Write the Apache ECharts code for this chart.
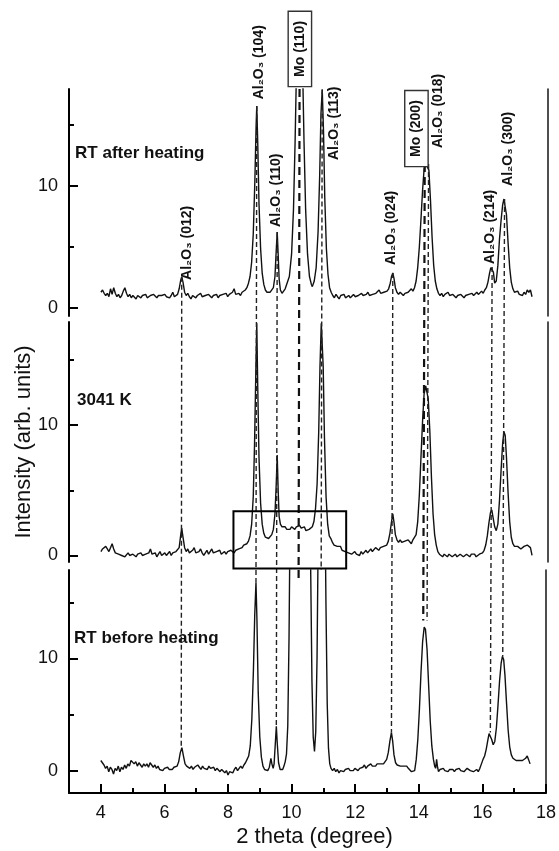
<!DOCTYPE html>
<html>
<head>
<meta charset="utf-8">
<script src="https://cdn.jsdelivr.net/npm/echarts@6.0.0/dist/echarts.min.js"></script>
<style>
  html, body { margin: 0; padding: 0; background: #fff; }
  #chart { width: 559px; height: 851px; }
</style>
</head>
<body>
<div id="chart"></div>
<script>
// ---- axis ticks ----
const xTicks = [4, 6, 8, 10, 12, 14, 16, 18];
const xMinorTicks = [5, 7, 9, 11, 13, 15, 17];
const yTicks = [0, 10];
const yMinorTicks = [5, 15];

// ---- panel captions (top to bottom) ----
const panelNames = ['RT after heating', '3041 K', 'RT before heating'];

// ---- diffraction patterns: [2 theta (deg), intensity (arb. units)] ----
const afterHeating = [
  [4.00,1.29],[4.05,1.47],[4.10,1.20],[4.15,1.02],[4.20,1.20],[4.25,0.92],[4.30,1.57],[4.35,1.11],[4.40,1.66],[4.45,1.20],
  [4.50,0.92],[4.55,1.11],[4.60,0.83],[4.65,1.02],[4.70,1.38],[4.75,1.66],[4.80,1.20],[4.85,0.92],[4.90,1.11],[4.95,0.83],
  [5.00,1.02],[5.05,0.92],[5.10,0.74],[5.15,1.02],[5.20,0.92],[5.25,0.83],[5.30,1.02],[5.35,0.92],[5.40,1.11],[5.45,0.83],
  [5.50,0.92],[5.55,1.02],[5.60,0.92],[5.65,1.11],[5.70,1.02],[5.75,0.83],[5.80,1.02],[5.85,0.92],[5.90,1.02],[5.95,0.92],
  [6.00,1.11],[6.05,0.92],[6.10,1.02],[6.15,0.83],[6.20,1.02],[6.25,1.29],[6.30,0.92],[6.35,1.02],[6.40,1.11],[6.45,1.57],
  [6.50,2.30],[6.53,2.55],[6.57,2.12],[6.62,1.29],[6.67,1.02],[6.72,1.20],[6.77,0.92],[6.82,0.74],[6.87,1.02],[6.92,1.11],
  [6.97,0.83],[7.02,1.02],[7.07,0.92],[7.12,1.20],[7.17,0.92],[7.22,0.83],[7.27,1.02],[7.32,0.92],[7.37,1.11],[7.42,1.02],
  [7.47,0.83],[7.52,1.02],[7.57,0.92],[7.62,1.11],[7.67,0.83],[7.72,1.02],[7.77,0.92],[7.82,1.11],[7.87,1.02],[7.92,1.20],
  [7.97,0.92],[8.02,1.11],[8.07,1.02],[8.12,1.29],[8.17,1.57],[8.22,1.11],[8.27,1.02],[8.32,1.20],[8.37,1.02],[8.42,1.29],
  [8.47,1.20],[8.52,1.47],[8.57,1.66],[8.62,2.03],[8.67,2.58],[8.72,3.77],[8.77,6.06],[8.82,10.38],[8.86,14.97],[8.88,16.56],
  [8.91,13.59],[8.95,8.54],[9.00,4.87],[9.05,2.85],[9.10,1.93],[9.15,1.47],[9.20,1.29],[9.25,1.20],[9.30,1.29],[9.35,1.38],
  [9.40,1.66],[9.45,2.58],[9.48,4.23],[9.52,6.23],[9.55,4.41],[9.58,2.39],[9.62,1.47],[9.67,1.20],[9.72,1.29],[9.77,1.57],
  [9.82,1.66],[9.90,2.58],[9.97,4.41],[10.03,8.08],[10.08,13.59],[10.12,19.1],[10.17,26.44],[10.22,30.12],[10.27,26.44],
  [10.32,19.1],[10.36,13.59],[10.41,8.08],[10.47,4.41],[10.53,2.58],[10.59,1.93],[10.62,1.75],[10.68,2.21],[10.74,3.31],
  [10.80,6.25],[10.85,10.84],[10.89,15.89],[10.93,17.9],[10.97,14.51],[11.01,9.0],[11.06,4.87],[11.11,2.76],[11.16,1.66],
  [11.21,1.29],[11.26,1.02],[11.31,0.83],[11.36,1.11],[11.41,0.92],[11.46,0.74],[11.51,1.02],[11.56,0.92],[11.61,1.11],
  [11.66,0.83],[11.71,0.92],[11.76,1.02],[11.81,0.83],[11.86,0.92],[11.91,1.11],[11.96,0.92],[12.01,0.83],[12.06,1.02],
  [12.11,0.92],[12.16,1.20],[12.21,1.02],[12.26,0.92],[12.31,1.11],[12.36,1.29],[12.41,1.02],[12.46,0.92],[12.51,1.11],
  [12.56,1.02],[12.61,1.20],[12.66,1.11],[12.71,1.47],[12.76,1.20],[12.81,1.11],[12.86,1.29],[12.91,1.20],[12.96,1.38],
  [13.01,1.57],[13.06,2.03],[13.10,2.58],[13.14,2.87],[13.18,2.39],[13.22,1.66],[13.27,1.29],[13.32,1.11],[13.37,1.29],
  [13.42,1.20],[13.47,1.02],[13.52,1.20],[13.57,1.11],[13.62,1.29],[13.67,1.38],[13.72,1.57],[13.77,1.38],[13.82,1.66],
  [13.87,2.21],[13.92,3.31],[13.97,4.96],[14.02,7.17],[14.07,9.55],[14.12,11.39],[14.17,11.85],[14.22,11.57],[14.27,11.30],
  [14.32,8.82],[14.37,5.79],[14.42,3.49],[14.47,2.21],[14.52,1.57],[14.57,1.20],[14.62,1.02],[14.67,1.20],[14.72,0.92],
  [14.77,1.11],[14.82,1.02],[14.87,1.29],[14.92,1.02],[14.97,0.92],[15.02,1.11],[15.07,1.02],[15.12,0.83],[15.17,1.02],
  [15.22,0.92],[15.27,1.11],[15.32,1.02],[15.37,0.83],[15.42,1.02],[15.47,0.92],[15.52,1.11],[15.57,1.02],[15.62,1.20],
  [15.67,1.02],[15.72,1.11],[15.77,1.29],[15.82,1.11],[15.87,1.20],[15.92,1.38],[15.97,1.20],[16.02,1.47],[16.07,1.66],
  [16.12,2.12],[16.17,2.85],[16.21,3.31],[16.25,3.36],[16.29,2.94],[16.33,2.03],[16.38,2.21],[16.43,3.49],[16.48,5.61],
  [16.53,7.17],[16.58,8.45],[16.62,8.93],[16.66,8.82],[16.70,7.63],[16.75,5.33],[16.80,3.31],[16.85,2.12],[16.90,1.57],
  [16.95,1.29],[17.00,1.20],[17.05,1.38],[17.10,1.11],[17.15,1.20],[17.20,1.02],[17.25,1.29],[17.30,1.11],[17.35,1.47],
  [17.40,1.29],[17.45,1.47],[17.50,0.92]
];

const at3041K = [
  [4.00,0.3],[4.05,0.5],[4.10,0.4],[4.15,0.7],[4.20,0.5],[4.25,0.3],[4.30,0.6],[4.35,0.9],[4.40,0.5],[4.45,0.2],
  [4.50,0.3],[4.55,0.1],[4.60,0.2],[4.65,0.0],[4.70,0.1],[4.75,-0.1],[4.80,0.0],[4.85,0.2],[4.90,0.0],[4.95,-0.1],
  [5.00,0.1],[5.05,0.0],[5.10,-0.1],[5.15,0.1],[5.20,0.0],[5.25,0.2],[5.30,0.0],[5.35,-0.1],[5.40,0.1],[5.45,0.0],
  [5.50,0.2],[5.55,0.5],[5.60,0.1],[5.65,0.0],[5.70,0.2],[5.75,-0.1],[5.80,0.1],[5.85,0.3],[5.90,0.0],[5.95,0.1],
  [6.00,0.2],[6.05,0.0],[6.10,0.1],[6.15,0.3],[6.20,0.0],[6.25,0.2],[6.30,0.1],[6.35,0.3],[6.40,0.2],[6.45,0.6],
  [6.50,1.6],[6.53,2.1],[6.57,1.4],[6.62,0.6],[6.67,0.3],[6.72,0.5],[6.77,0.2],[6.82,0.1],[6.87,0.4],[6.92,0.6],
  [6.97,0.2],[7.02,0.1],[7.07,0.3],[7.12,0.5],[7.17,0.2],[7.22,0.0],[7.27,0.2],[7.32,0.4],[7.37,0.1],[7.42,0.3],
  [7.47,0.5],[7.52,0.2],[7.57,0.1],[7.62,0.3],[7.67,0.2],[7.72,0.4],[7.77,0.1],[7.82,0.2],[7.87,0.3],[7.92,0.1],
  [7.97,0.3],[8.02,0.2],[8.07,0.4],[8.12,0.3],[8.17,0.2],[8.22,0.4],[8.27,0.3],[8.32,0.5],[8.37,0.4],[8.42,0.6],
  [8.47,0.8],[8.52,0.7],[8.57,0.9],[8.62,1.1],[8.67,1.5],[8.72,2.4],[8.77,4.5],[8.81,8.5],[8.85,14.0],[8.88,17.8],
  [8.91,13.0],[8.95,7.5],[9.00,4.0],[9.05,2.4],[9.10,1.7],[9.15,1.4],[9.20,1.3],[9.25,1.3],[9.30,1.4],[9.35,1.6],
  [9.40,2.0],[9.45,3.2],[9.49,5.5],[9.52,7.7],[9.55,5.0],[9.58,3.0],[9.62,2.4],[9.67,2.2],[9.72,2.1],[9.77,2.2],
  [9.82,2.0],[9.87,2.1],[9.92,2.0],[9.97,2.2],[10.02,2.1],[10.07,2.0],[10.12,2.2],[10.17,2.1],[10.22,2.3],[10.27,2.1],
  [10.32,2.0],[10.37,2.2],[10.42,1.9],[10.47,1.8],[10.52,2.0],[10.57,1.9],[10.62,2.2],[10.67,2.6],[10.72,3.6],
  [10.77,5.5],[10.82,9.5],[10.86,14.5],[10.90,17.8],[10.93,17.9],[10.96,14.5],[11.00,9.0],[11.05,4.5],[11.10,2.4],
  [11.15,1.5],[11.20,1.3],[11.25,1.0],[11.30,0.8],[11.35,0.9],[11.40,0.7],[11.45,0.6],[11.50,0.7],[11.55,0.4],
  [11.60,0.5],[11.65,0.3],[11.70,0.4],[11.75,0.2],[11.80,0.3],[11.85,0.1],[11.90,0.2],[11.95,0.3],[12.00,0.1],
  [12.05,0.2],[12.10,0.0],[12.15,0.3],[12.20,0.1],[12.25,0.2],[12.30,0.4],[12.35,0.2],[12.40,0.3],[12.45,0.5],
  [12.50,0.3],[12.55,0.4],[12.60,0.6],[12.65,0.5],[12.70,0.4],[12.75,0.6],[12.80,0.5],[12.85,0.7],[12.90,0.6],
  [12.95,0.8],[13.00,1.1],[13.05,1.7],[13.10,2.6],[13.14,3.2],[13.18,2.5],[13.22,1.6],[13.27,1.2],[13.32,1.0],
  [13.37,1.2],[13.42,1.0],[13.47,0.9],[13.52,1.1],[13.57,1.0],[13.62,1.2],[13.67,1.1],[13.72,0.9],[13.77,1.2],
  [13.82,1.1],[13.87,1.6],[13.92,2.6],[13.97,4.6],[14.02,7.4],[14.07,10.2],[14.12,12.4],[14.17,13.0],[14.21,12.9],
  [14.25,12.0],[14.30,9.5],[14.35,6.0],[14.40,3.2],[14.45,1.6],[14.50,0.8],[14.55,0.3],[14.60,0.1],[14.65,0.0],
  [14.70,-0.1],[14.75,0.1],[14.80,0.0],[14.85,-0.1],[14.90,0.1],[14.95,0.0],[15.00,-0.1],[15.05,0.0],[15.10,0.1],
  [15.15,-0.1],[15.20,0.0],[15.25,0.1],[15.30,0.0],[15.35,-0.1],[15.40,0.0],[15.45,0.1],[15.50,0.0],[15.55,-0.1],
  [15.60,0.1],[15.65,0.0],[15.70,0.1],[15.75,-0.1],[15.80,0.0],[15.85,0.1],[15.90,0.0],[15.95,0.2],[16.00,0.4],
  [16.05,0.8],[16.10,1.5],[16.15,2.5],[16.20,3.3],[16.24,3.5],[16.28,2.9],[16.33,2.2],[16.38,1.9],[16.43,2.4],
  [16.48,4.2],[16.53,6.5],[16.58,8.6],[16.62,9.5],[16.66,9.2],[16.70,7.5],[16.75,4.8],[16.80,2.6],[16.85,1.4],
  [16.90,0.9],[16.95,0.7],[17.00,0.6],[17.05,0.7],[17.10,0.6],[17.15,0.5],[17.20,0.6],[17.25,0.7],[17.30,0.6],
  [17.35,0.8],[17.40,0.9],[17.45,0.6],[17.50,0.0]
];

const beforeHeating = [
  [4.00,0.9],[4.05,0.7],[4.10,0.5],[4.15,0.2],[4.20,0.4],[4.25,-0.1],[4.30,0.3],[4.35,0.1],[4.40,-0.3],[4.45,0.2],
  [4.50,0.0],[4.55,0.4],[4.60,-0.1],[4.65,0.3],[4.70,0.1],[4.75,0.5],[4.80,0.2],[4.85,0.6],[4.90,0.4],[4.95,0.9],
  [5.00,1.0],[5.05,0.6],[5.10,0.8],[5.15,0.4],[5.20,0.7],[5.25,0.5],[5.30,0.3],[5.35,0.6],[5.40,0.4],[5.45,0.6],
  [5.50,0.3],[5.55,0.7],[5.60,0.5],[5.65,0.3],[5.70,0.5],[5.75,0.2],[5.80,0.4],[5.85,0.1],[5.90,0.2],[5.95,0.0],
  [6.00,0.2],[6.05,0.1],[6.10,0.3],[6.15,0.1],[6.20,0.2],[6.25,0.1],[6.30,0.3],[6.35,0.2],[6.40,0.4],[6.45,0.8],
  [6.50,1.6],[6.55,2.05],[6.60,1.3],[6.65,0.6],[6.70,0.4],[6.75,0.3],[6.80,0.2],[6.85,0.4],[6.90,0.1],[6.95,0.3],
  [7.00,0.2],[7.05,0.5],[7.10,0.3],[7.15,0.1],[7.20,0.4],[7.25,0.2],[7.30,0.3],[7.35,0.1],[7.40,0.4],[7.45,0.2],
  [7.50,0.1],[7.55,0.3],[7.60,0.0],[7.65,0.2],[7.70,0.1],[7.75,-0.1],[7.80,0.1],[7.85,0.0],[7.90,-0.2],[7.95,0.0],
  [8.00,-0.4],[8.05,-0.1],[8.10,0.0],[8.15,-0.2],[8.20,0.1],[8.25,0.3],[8.30,0.0],[8.35,0.2],[8.40,0.4],[8.45,0.2],
  [8.50,0.5],[8.55,0.7],[8.60,1.0],[8.65,1.3],[8.70,2.2],[8.75,4.6],[8.80,9.0],[8.84,13.8],[8.88,16.8],[8.91,13.5],
  [8.95,7.0],[9.00,3.0],[9.05,1.2],[9.10,0.4],[9.15,0.1],[9.20,0.2],[9.25,0.0],[9.30,0.3],[9.35,1.1],[9.38,0.6],
  [9.42,0.2],[9.45,0.6],[9.49,2.5],[9.52,3.95],[9.55,2.4],[9.59,0.7],[9.64,0.1],[9.68,-0.05],[9.72,0.1],[9.76,0.4],
  [9.80,0.8],[9.84,1.5],[9.88,4.0],[9.92,12.0],[9.96,25.0],[10.02,45.0],[10.10,70.0],[10.22,90.0],[10.35,70.0],
  [10.45,50.0],[10.55,30.0],[10.60,18.0],[10.64,8.0],[10.68,3.0],[10.72,1.7],[10.76,3.5],[10.80,10.0],[10.85,25.0],
  [10.95,50.0],[11.03,30.0],[11.08,15.0],[11.12,6.0],[11.16,2.0],[11.20,0.6],[11.24,0.2],[11.29,0.0],[11.34,0.2],
  [11.39,-0.1],[11.44,0.1],[11.49,-0.2],[11.54,0.0],[11.59,0.1],[11.64,-0.1],[11.69,0.1],[11.74,0.0],[11.79,0.2],
  [11.84,0.0],[11.89,0.1],[11.94,0.0],[11.99,0.2],[12.04,0.1],[12.09,0.0],[12.14,0.2],[12.19,0.1],[12.24,0.3],
  [12.29,0.5],[12.34,0.2],[12.39,0.4],[12.44,0.3],[12.49,0.6],[12.54,0.4],[12.59,0.5],[12.64,0.4],[12.69,0.6],
  [12.74,0.5],[12.79,0.6],[12.84,0.7],[12.89,0.6],[12.94,0.8],[12.99,1.0],[13.04,1.6],[13.09,2.6],[13.14,3.4],
  [13.18,2.6],[13.22,1.4],[13.27,0.7],[13.32,0.5],[13.37,0.6],[13.42,0.4],[13.47,0.5],[13.52,0.4],[13.57,0.3],
  [13.62,0.4],[13.67,0.2],[13.72,0.1],[13.77,-0.1],[13.82,-0.2],[13.87,0.0],[13.92,1.0],[13.97,2.8],[14.02,5.5],
  [14.07,8.8],[14.12,11.5],[14.17,12.8],[14.21,12.6],[14.26,10.8],[14.31,7.6],[14.36,4.4],[14.41,2.2],[14.46,1.0],
  [14.50,0.4],[14.53,0.2],[14.56,1.0],[14.59,0.3],[14.62,-0.1],[14.67,0.1],[14.72,0.0],[14.77,0.2],[14.82,0.0],
  [14.87,0.1],[14.92,-0.1],[14.97,0.1],[15.02,0.0],[15.07,0.1],[15.12,-0.1],[15.17,0.1],[15.22,0.0],[15.27,0.2],
  [15.32,0.0],[15.37,0.1],[15.42,-0.1],[15.47,0.0],[15.52,0.2],[15.57,0.1],[15.62,0.0],[15.67,0.1],[15.72,-0.1],
  [15.77,0.0],[15.82,0.1],[15.87,-0.1],[15.92,0.2],[15.97,0.6],[16.02,1.0],[16.07,1.3],[16.12,1.9],[16.17,2.7],
  [16.21,3.3],[16.25,3.4],[16.29,2.8],[16.34,2.3],[16.39,2.6],[16.44,3.8],[16.49,5.8],[16.54,8.0],[16.59,9.6],
  [16.63,10.2],[16.67,9.9],[16.71,8.5],[16.76,6.0],[16.81,3.6],[16.86,2.1],[16.91,1.4],[16.96,1.1],[17.01,1.0],
  [17.06,0.9],[17.11,1.0],[17.16,0.9],[17.21,1.0],[17.26,0.9],[17.31,1.0],[17.36,1.1],[17.41,1.3],[17.45,1.0],
  [17.50,0.6]
];

// ---- reflections ----
const reflectionNames = ['Al₂O₃ (012)', 'Al₂O₃ (104)', 'Al₂O₃ (110)', 'Mo (110)', 'Al₂O₃ (113)',
                         'Al₂O₃ (024)', 'Mo (200)', 'Al₂O₃ (018)', 'Al₂O₃ (214)', 'Al₂O₃ (300)'];
const reflectionPos = [6.53, 8.88, 9.52, 10.22, 10.93, 13.14, 14.14, 14.26, 16.25, 16.64];
const isMo = [false, false, false, true, false, false, true, false, false, false];
// guide line start (top panel intensity) and end (bottom panel intensity)
const guideStart = [2.55, 16.56, 6.23, 17.95, 17.9, 2.87, 11.8, 11.8, 3.36, 8.93];
const guideEnd = [2.05, 16.8, 3.95, 17.05, 17.9, 3.4, 13.4, 13.4, 3.4, 10.2];

// ---- layout ----
const FONT = "'Liberation Sans', Arial, sans-serif";
const panels = [
  { top: 89,  height: 227, min: -0.66, max: 17.95 },
  { top: 322, height: 240, min: -0.5,  max: 17.9 },
  { top: 570, height: 223, min: -2.0,  max: 17.9 }
];
const X_MIN = 3, X_MAX = 18;
// label anchors (bottom-centre of the rotated text) in top-panel data units
const labelAnchor = [[6.70, 2.3], [8.95, 17.1], [9.48, 6.64], [10.23, 18.2], [11.30, 12.13],
                     [13.08, 3.52], [13.88, 11.64], [14.56, 13.11], [16.18, 3.6], [16.75, 10.0]];
const captionAnchor = [[3.19, 12.7], [3.25, 11.9], [3.16, 11.8]];
const zoomBox = [[8.15, 3.4], [11.68, -1.0]];   // highlighted region in the 3041 K panel

const chart = echarts.init(document.getElementById('chart'), null, { renderer: 'canvas' });

const grids = panels.map(p => ({ left: 69, right: 11, top: p.top, height: p.height }));

function hiddenX(g) {
  return { type: 'value', gridIndex: g, position: 'bottom', min: X_MIN, max: X_MAX, show: false,
           splitLine: { show: false } };
}
function mainX(g) {
  return {
    type: 'value', gridIndex: g, position: 'bottom', min: X_MIN, max: X_MAX, show: true,
    name: '2 theta (degree)', nameLocation: 'middle', nameGap: 33,
    nameTextStyle: { fontFamily: FONT, fontSize: 22, color: '#111', padding: [0, 0, 0, 14] },
    axisLine: { show: true, onZero: false, lineStyle: { color: '#000', width: 2 } },
    axisTick: { show: true, inside: true, length: 9, customValues: xTicks, lineStyle: { color: '#000', width: 2 } },
    axisLabel: { show: true, customValues: xTicks, margin: 11, fontFamily: FONT, fontSize: 18, color: '#111' },
    splitLine: { show: false }
  };
}
function minorX(g) {
  return {
    type: 'value', gridIndex: g, position: 'bottom', min: X_MIN, max: X_MAX,
    axisLine: { show: false, onZero: false },
    axisTick: { show: true, inside: true, length: 5, customValues: xMinorTicks, lineStyle: { color: '#000', width: 2 } },
    axisLabel: { show: false }, splitLine: { show: false }
  };
}
function mainY(g, p) {
  return {
    type: 'value', gridIndex: g, position: 'left', min: p.min, max: p.max,
    axisLine: { show: true, onZero: false, lineStyle: { color: '#000', width: 2 } },
    axisTick: { show: true, inside: true, length: 9, customValues: yTicks, lineStyle: { color: '#000', width: 2 } },
    axisLabel: { show: true, customValues: yTicks, margin: 11, fontFamily: FONT, fontSize: 18, color: '#111' },
    splitLine: { show: false }
  };
}
function minorY(g, p) {
  return {
    type: 'value', gridIndex: g, position: 'left', min: p.min, max: p.max,
    axisLine: { show: false, onZero: false },
    axisTick: { show: true, inside: true, length: 5, customValues: yMinorTicks, lineStyle: { color: '#000', width: 2 } },
    axisLabel: { show: false }, splitLine: { show: false }
  };
}
function rightY(g, p) {
  return {
    type: 'value', gridIndex: g, position: 'right', min: p.min, max: p.max,
    axisLine: { show: true, onZero: false, lineStyle: { color: '#222', width: 1.6 } },
    axisTick: { show: false }, axisLabel: { show: false }, splitLine: { show: false }
  };
}

// x axes: 0 / 1 hidden (upper panels), 2 main scale, 3 minor ticks
const xAxes = [hiddenX(0), hiddenX(1), mainX(2), minorX(2)];
// y axes: three per panel (scale, minor ticks, right frame)
const yAxes = [];
panels.forEach((p, i) => { yAxes.push(mainY(i, p), minorY(i, p), rightY(i, p)); });

const patterns = [afterHeating, at3041K, beforeHeating];
const series = patterns.map((d, i) => ({
  type: 'line', xAxisIndex: i, yAxisIndex: 3 * i, data: d,
  showSymbol: false, clip: true, silent: true,
  lineStyle: { color: '#111', width: 1.4 }
}));

chart.setOption({
  animation: false,
  grid: grids,
  xAxis: xAxes,
  yAxis: yAxes,
  series: series
});

// ---- annotations placed through the panel scales ----
function toPx(panel, pt) {
  return chart.convertToPixel({ xAxisIndex: panel, yAxisIndex: 3 * panel }, pt);
}

const graphics = [];

// vertical guides linking each reflection through the three patterns
reflectionPos.forEach((x, k) => {
  const a = toPx(0, [x, guideStart[k]]);
  const b = toPx(2, [x, guideEnd[k]]);
  graphics.push({
    type: 'line', silent: true, z: 5,
    shape: { x1: a[0], y1: a[1], x2: b[0], y2: b[1] },
    style: isMo[k]
      ? { stroke: '#111', lineWidth: 2.2, lineDash: [8, 5] }
      : { stroke: '#222', lineWidth: 1.4, lineDash: [5, 3] }
  });
});

// reflection labels (rotated, reading upwards)
reflectionNames.forEach((name, k) => {
  const p = toPx(0, labelAnchor[k]);
  const style = {
    text: name, x: 0, y: 0, align: 'left', verticalAlign: 'middle',
    font: 'bold 14px ' + FONT, fill: '#111'
  };
  if (isMo[k]) {
    Object.assign(style, { borderColor: '#333', borderWidth: 1.4, padding: [4, 9], backgroundColor: '#fff' });
  }
  graphics.push({ type: 'text', x: p[0], y: p[1], rotation: Math.PI / 2, silent: true, z: 10, style });
});

// panel captions
panelNames.forEach((name, i) => {
  const p = toPx(i, captionAnchor[i]);
  graphics.push({
    type: 'text', x: p[0], y: p[1], silent: true, z: 10,
    style: { text: name, align: 'left', verticalAlign: 'middle', font: 'bold 17px ' + FONT, fill: '#111' }
  });
});

// highlighted region in the 3041 K pattern
const r0 = toPx(1, zoomBox[0]);
const r1 = toPx(1, zoomBox[1]);
graphics.push({
  type: 'rect', silent: true, z: 6,
  shape: { x: r0[0], y: r0[1], width: r1[0] - r0[0], height: r1[1] - r0[1] },
  style: { fill: 'none', stroke: '#000', lineWidth: 2 }
});

// shared intensity axis title, centred on the middle panel
const midTop = toPx(1, [X_MIN, panels[1].max])[1];
const midBot = toPx(1, [X_MIN, panels[1].min])[1];
graphics.push({
  type: 'text', x: 24, y: (midTop + midBot) / 2, rotation: Math.PI / 2, silent: true,
  style: { text: 'Intensity (arb. units)', align: 'center', verticalAlign: 'middle', font: '22px ' + FONT, fill: '#111' }
});

chart.setOption({ graphic: graphics });
</script>
</body>
</html>
